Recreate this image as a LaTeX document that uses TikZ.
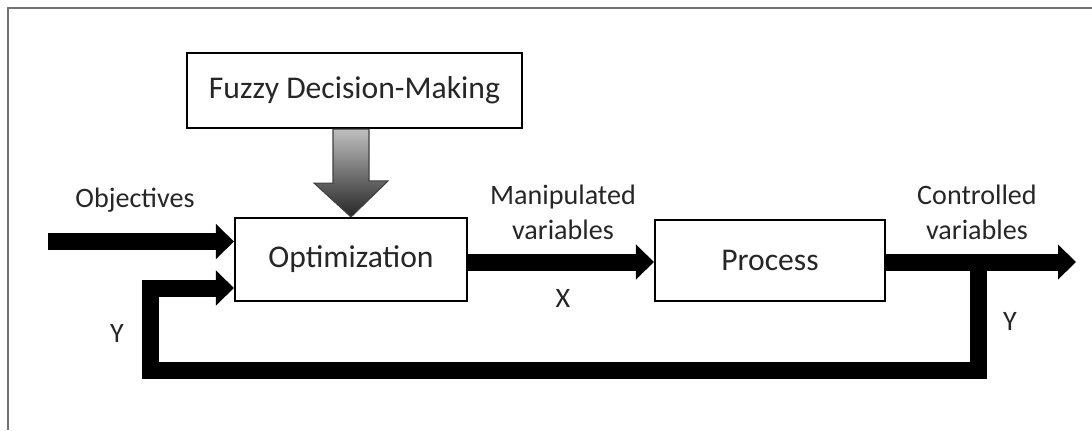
\documentclass[tikz,border=0pt]{standalone}
\usepackage{fontspec}
\setmainfont{Carlito}
\usetikzlibrary{
  arrows.meta,
  calc,
  positioning
}
\tikzset{
  % For the three blocks.
  block/.style={
    draw,
    line width=1.2pt,
    fill=white,
    inner sep=0pt,
    text=black!85,
    font=\fontsize{18}{21}\selectfont},
%
  % For the thick signal lines.
  flow/.style={
    line width=0.34cm,
    line join=miter,
    -{Triangle[length=0.36cm, width=0.68cm]}},
%
  % For texts beside the lines.
  label text/.style={
    align=center,
    text=black!85,
    font=\fontsize{16}{20}\selectfont},
}

\begin{document}
\begin{tikzpicture}[x=0.02cm, y=-0.02cm]
  \useasboundingbox (0,0) rectangle (1092,430);
  \draw[black!55, line width=1.2pt] (8,430) -- (8,8) -- (1092,8);

  \node[block, minimum width=6.7cm, minimum height=1.5cm]
    (fuzzy) at (354.5,90.5) {Fuzzy Decision-Making};
  \node[block, minimum width=4.64cm, minimum height=1.66cm]
    (optim) at (351,259.5) {Optimization};
  \node[block, minimum width=4.6cm, minimum height=1.62cm]
    (process) at (770,260.5) {Process};

  % shaded arrow from the fuzzy block
  \coordinate (drop) at (fuzzy.south -| optim.north);
  \draw[black!75, line width=0.6pt, top color=black!25, bottom color=black!85]
    ($(drop)+(-18,0)$) -- ++(0,54) -- ++(-19,0)
    -- (optim.north) -- ++(37,-36) -- ++(-19,0)
    -- ($(drop)+(18,0)$) -- cycle;

  \coordinate (input) at (48,241.5);
  \coordinate (output) at (1076,262);
  \coordinate (tap) at (978,262);
  \coordinate (low) at (150,370);

  \draw[flow] (input) -- (input -| optim.west);
  \draw[flow] (optim.east |- 0,262) -- (process.west |- 0,262);
  \draw[flow] (process.east |- output) -- (output);
  \draw[flow] (tap) |- (low) |- (optim.west |- 0,288);

  \node[label text] (objectives) at (135,200) {Objectives};
  \node[label text] (manip) at (563,212) {Manipulated\\variables};
  \node[label text] (x) at (563,298) {X};
  \node[label text] (yleft) at (117,333) {Y};
  \node[label text] (controlled) at (977,212) {Controlled\\variables};
  \node[label text] (yright) at (1010,321) {Y};
\end{tikzpicture}
\end{document}
